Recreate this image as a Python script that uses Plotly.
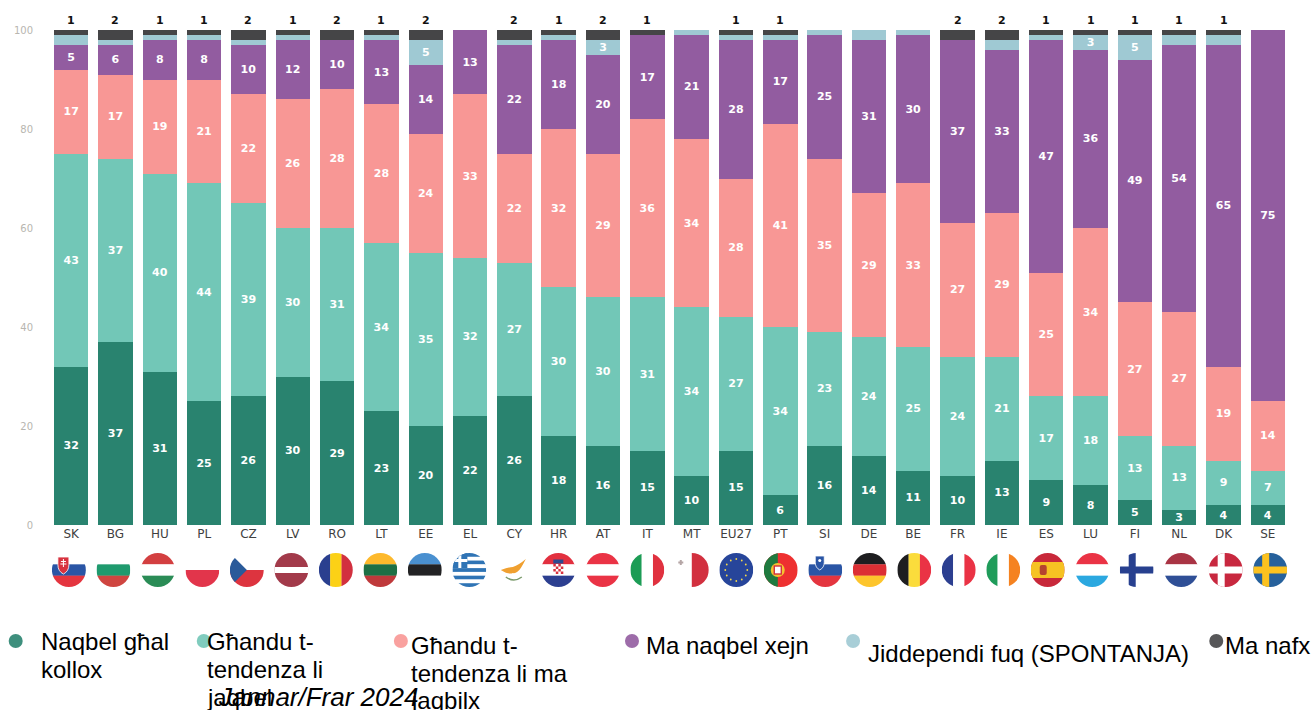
import base64
import plotly.graph_objects as go

countries = ["SK", "BG", "HU", "PL", "CZ", "LV", "RO", "LT", "EE", "EL", "CY", "HR", "AT", "IT",
             "MT", "EU27", "PT", "SI", "DE", "BE", "FR", "IE", "ES", "LU", "FI", "NL", "DK", "SE"]
total_trust = [32, 37, 31, 25, 26, 30, 29, 23, 20, 22, 26, 18, 16, 15, 10, 15, 6, 16, 14, 11, 10, 13, 9, 8, 5, 3, 4, 4]
tend_trust = [43, 37, 40, 44, 39, 30, 31, 34, 35, 32, 27, 30, 30, 31, 34, 27, 34, 23, 24, 25, 24, 21, 17, 18, 13, 13, 9, 7]
tend_not = [17, 17, 19, 21, 22, 26, 28, 28, 24, 33, 22, 32, 29, 36, 34, 28, 41, 35, 29, 33, 27, 29, 25, 34, 27, 27, 19, 14]
not_at_all = [5, 6, 8, 8, 10, 12, 10, 13, 14, 13, 22, 18, 20, 17, 21, 28, 17, 25, 31, 30, 37, 33, 47, 36, 49, 54, 65, 75]
depends = [2, 1, 1, 1, 1, 1, 0, 1, 5, 0, 1, 1, 3, 0, 1, 1, 1, 1, 2, 1, 0, 2, 1, 3, 5, 2, 2, 0]
dont_know = [1, 2, 1, 1, 2, 1, 2, 1, 2, 0, 2, 1, 2, 1, 0, 1, 1, 0, 0, 0, 2, 2, 1, 1, 1, 1, 1, 0]

series_names = ["Naqbel għal kollox", "Għandu t-tendenza li jaqbel", "Għandu t-tendenza li ma jaqbilx",
                "Ma naqbel xejn", "Jiddependi fuq (SPONTANJA)", "Ma nafx"]
legend_labels = [["Naqbel għal", "kollox"], ["Għandu t-", "tendenza li", "jaqbel"], ["Għandu t-", "tendenza li ma", "jaqbilx"],
                 ["Ma naqbel xejn"], ["Jiddependi fuq (SPONTANJA)"], ["Ma nafx"]]
caption = "Jannar/Frar 2024"
colors = ["#29836f", "#72c7b7", "#f89795", "#925ca0", "#9fc9d3", "#454547"]

# page layout in pixels
W, H = 1314, 710
L, R, T, B = 49.3, 1289.7, 30, 525


def px_x(p):
    return (p - L) / (R - L)


def px_y(p):
    return (B - p) / (B - T)


def h(*cols):
    n = len(cols)
    return "".join(f'<rect y="{i * 34 / n}" width="34" height="{34 / n + 0.2}" fill="{c}"/>' for i, c in enumerate(cols))


def v(*cols):
    n = len(cols)
    return "".join(f'<rect x="{i * 34 / n}" width="{34 / n + 0.2}" height="34" fill="{c}"/>' for i, c in enumerate(cols))


def cross(back, fore, inner=None):
    s = f'<rect width="34" height="34" fill="{back}"/>'
    s += f'<rect x="9" width="7" height="34" fill="{fore}"/><rect y="13.5" width="34" height="7" fill="{fore}"/>'
    if inner:
        s += f'<rect x="11" width="3" height="34" fill="{inner}"/><rect y="15.5" width="34" height="3" fill="{inner}"/>'
    return s


def shield(x, y, w, fill, extra=""):
    return f'<path d="M{x} {y}h{w}v{w * 0.7}q0 {w * 0.6} {-w / 2} {w * 0.85}q{-w / 2} {-w * 0.25} {-w / 2} {-w * 0.85}z" fill="{fill}" stroke="#fff" stroke-width="0.8"/>' + extra


eu_stars = "".join(f'<circle cx="{x}" cy="{y}" r="0.9" fill="#f5d94a"/>' for x, y in
                   [(17, 6), (22.5, 7.5), (26.5, 11.5), (28, 17), (26.5, 22.5), (22.5, 26.5),
                    (17, 28), (11.5, 26.5), (7.5, 22.5), (6, 17), (7.5, 11.5), (11.5, 7.5)])
greek = h("#2f74b5", "#fff", "#2f74b5", "#fff", "#2f74b5", "#fff", "#2f74b5", "#fff", "#2f74b5") + \
    '<rect width="15" height="15" fill="#2f74b5"/><rect x="6" width="3" height="15" fill="#fff"/><rect y="6" width="15" height="3" fill="#fff"/>'
checks = "".join(f'<rect x="{12 + 2.5 * i}" y="{11 + 2.5 * j}" width="2.5" height="2.5" fill="#d8323f"/>'
                 for i in range(4) for j in range(4) if (i + j) % 2 == 0)

flags = {
    "SK": h("#fff", "#2a55a5", "#e4353f") + shield(6, 4, 11, "#d8323f", '<path d="M11.5 6v8M9 8.5h5M8.5 11h6" stroke="#fff" stroke-width="1"/>'),
    "BG": h("#fff", "#1f9a6e", "#cf4540"),
    "HU": h("#d33f40", "#fff", "#2a8c56"),
    "PL": h("#fff", "#e2354b"),
    "CZ": h("#fff", "#dd343f") + '<path d="M0 0L17 17L0 34z" fill="#2a5a9a"/>',
    "LV": '<rect width="34" height="34" fill="#a23a4a"/><rect y="14" width="34" height="6" fill="#fff"/>',
    "RO": v("#2a3f8f", "#fcd116", "#d2303f"),
    "LT": h("#fdb92c", "#1d6f45", "#bf393b"),
    "EE": h("#4a90d0", "#222224", "#fff"),
    "EL": greek,
    "CY": '<path d="M4 17q8 -3 12 -3q6 -2 13 -8q-3 6 -5 9q-4 6 -8 5q-4 2 -12 -3z" fill="#f0a030"/>'
          '<path d="M9 24q8 6 16 0" fill="none" stroke="#7d9c6e" stroke-width="1.5"/>',
    "HR": h("#e2303f", "#fff", "#2c3f90") + '<rect x="12" y="11" width="10" height="10" fill="#fff"/>' + checks
          + '<rect x="12" y="6.5" width="10" height="4" fill="#2c4a90"/>',
    "AT": h("#ea3345", "#fff", "#ea3345"),
    "IT": v("#1c9c55", "#fff", "#e0313f"),
    "MT": v("#fff", "#d2303f") + '<path d="M6 7v5M3.5 9.5h5" stroke="#b5a6a6" stroke-width="2"/>',
    "EU27": '<rect width="34" height="34" fill="#27459a"/>' + eu_stars,
    "PT": '<rect width="34" height="34" fill="#ee3030"/><rect width="14" height="34" fill="#1f7a3f"/>'
          '<circle cx="14" cy="17" r="7" fill="#f4c430"/><rect x="10.5" y="13" width="7" height="8" fill="#fff" stroke="#d2303f" stroke-width="1.4"/>',
    "SI": h("#fff", "#2a55a5", "#e4353f") + shield(7, 3, 9, "#2a55a5", '<circle cx="11.5" cy="7.5" r="1.5" fill="#fff"/>'),
    "DE": h("#1e1e20", "#dc2f34", "#fdc52c"),
    "BE": v("#1e1e20", "#fbdc3c", "#ea3345"),
    "FR": v("#2c3f90", "#fff", "#ea3345"),
    "IE": v("#1f9c5a", "#fff", "#f58220"),
    "ES": '<rect width="34" height="34" fill="#c8283a"/><rect y="9" width="34" height="16" fill="#f6c223"/>'
          '<rect x="9" y="12" width="7" height="10" rx="2" fill="#b5442f"/>',
    "LU": h("#ea3345", "#fff", "#2ba8e0"),
    "FI": cross("#fff", "#27408f"),
    "NL": h("#a93444", "#fff", "#2f4f96"),
    "DK": cross("#c8283f", "#fff"),
    "SE": cross("#26619c", "#fcc21f"),
}


def flag_uri(code):
    svg = ('<svg xmlns="http://www.w3.org/2000/svg" viewBox="0 0 34 34" width="136" height="136">'
           '<defs><clipPath id="c"><ellipse cx="17" cy="17" rx="17" ry="17"/></clipPath></defs>'
           f'<g clip-path="url(#c)">{flags[code]}</g></svg>')
    return "data:image/svg+xml;base64," + base64.b64encode(svg.encode()).decode()


all_values = [total_trust, tend_trust, tend_not, not_at_all, depends, dont_know]
fig = go.Figure()
for i, vals in enumerate(all_values):
    if i == 5:
        labels = None  # the don't-know figures sit above the bars instead
    else:
        labels = [str(x) if x >= 3 else "" for x in vals]
    fig.add_trace(go.Bar(
        x=countries, y=vals, name=series_names[i], marker=dict(color=colors[i], line=dict(width=0)),
        text=labels, textposition="inside" if labels else "none", textangle=0, insidetextanchor="middle",
        constraintext="none", textfont=dict(family="DejaVu Sans", size=11, color="white", weight="bold"),
    ))

annotations = []
for c, n in zip(countries, dont_know):
    if n > 0:
        annotations.append(dict(text=str(n), xref="x", yref="y", x=c, y=100, yshift=10, yanchor="middle", showarrow=False,
                                font=dict(family="DejaVu Sans", size=11, color="#111111", weight="bold")))

# flags run on their own slightly wider pitch than the bars
images = []
for i, c in enumerate(countries):
    images.append(dict(source=flag_uri(c), xref="paper", yref="paper", x=px_x(69.2 + i * 44.47), y=px_y(553),
                       sizex=34 / (R - L), sizey=34 / (B - T), xanchor="center", yanchor="top", sizing="stretch", layer="above"))

# hand-placed legend, as in the source picture
dots = [(16, 641), (204, 641), (401, 641), (632, 641), (853, 641), (1216, 641)]
legend_x = [39, 205, 409, 644, 866, 1223]
legend_y = [[641, 669], [641, 669, 697], [645, 673, 700], [645], [653], [645]]
shapes = []
for i, lines in enumerate(legend_labels):
    dx, dy = dots[i]
    shapes.append(dict(type="circle", xref="paper", yref="paper", x0=px_x(dx - 7), x1=px_x(dx + 7), y0=px_y(dy + 7), y1=px_y(dy - 7),
                       fillcolor=colors[i], line=dict(width=0), opacity=0.9))
    for line, ly in zip(lines, legend_y[i]):
        annotations.append(dict(text=line, xref="paper", yref="paper", x=px_x(legend_x[i]), y=px_y(ly), xanchor="left", yanchor="middle",
                                align="left", showarrow=False, font=dict(family="Liberation Sans", size=24, color="black")))
annotations.append(dict(text=f"<i>{caption}</i>", xref="paper", yref="paper", x=px_x(216), y=px_y(697), xanchor="left", yanchor="middle",
                        align="left", showarrow=False, font=dict(family="Liberation Sans", size=26, color="black")))

fig.update_layout(
    width=W, height=H, barmode="stack", bargap=0.223, showlegend=False, plot_bgcolor="white", paper_bgcolor="white",
    margin=dict(l=L, r=W - R, t=T, b=H - B, pad=0), images=images, shapes=shapes, annotations=annotations,
    xaxis=dict(type="category", range=[-0.5, 27.5], showgrid=False, zeroline=False, showline=False, ticks="",
               tickfont=dict(family="DejaVu Sans", size=12, color="#3f3f3f")),
    yaxis=dict(range=[0, 100], tickvals=[0, 20, 40, 60, 80, 100], showgrid=False, zeroline=False, showline=False, ticks="",
               ticklabelstandoff=15, tickfont=dict(family="DejaVu Sans", size=10, color="#b8b6b0")),
)

fig.write_html("out.html", config={"displayModeBar": False}, post_script="document.body.style.margin='0';")
